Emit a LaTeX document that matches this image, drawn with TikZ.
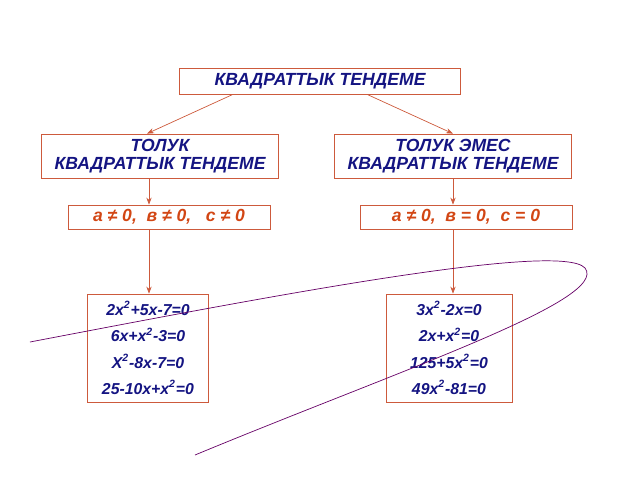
\documentclass[tikz,border=0pt]{standalone}
\usepackage{fontspec}
\setmainfont{Liberation Sans}
\usetikzlibrary{arrows.meta}
\definecolor{edge}{RGB}{205,90,60}
\definecolor{ink}{RGB}{20,20,130}
\definecolor{cond}{RGB}{210,70,20}
\tikzstyle{mybox} = [draw=edge, rectangle, inner sep=0pt, align=center,
    font=\fontsize{10}{10.5}\selectfont\bfseries\itshape]
\tikzstyle{conn} = [draw=edge]
\begin{document}
\begin{tikzpicture}[x=0.02cm,y=-0.02cm]
\useasboundingbox (0,0) rectangle (640,480);
\node[mybox,text=ink,minimum width=281*0.02cm,minimum height=26*0.02cm] (kv) at (320,81) {КВАДРАТТЫК ТЕНДЕМЕ};
\node[mybox,text=ink,minimum width=237*0.02cm,minimum height=44*0.02cm] (tol) at (160,156) {ТОЛУК\\КВАДРАТТЫК ТЕНДЕМЕ};
\node[mybox,text=ink,minimum width=237*0.02cm,minimum height=44*0.02cm] (eme) at (453,156) {ТОЛУК ЭМЕС\\КВАДРАТТЫК ТЕНДЕМЕ};
\node[mybox,text=cond,minimum width=202*0.02cm,minimum height=24*0.02cm] (c1) at (169,217) {а ≠ 0,\ \ в ≠ 0,\ \ \ с ≠ 0};
\node[mybox,text=cond,minimum width=212*0.02cm,minimum height=24*0.02cm] (c2) at (466,217) {а ≠ 0,\ \ в = 0,\ \ с = 0};
\node[mybox,text=ink,minimum width=121*0.02cm,minimum height=108*0.02cm,font=\fontsize{9}{15}\selectfont\bfseries\itshape] (e1) at (148,348)
  {2х\textsuperscript{2}+5х-7=0\\6х+х\textsuperscript{2}-3=0\\Х\textsuperscript{2}-8х-7=0\\25-10х+х\textsuperscript{2}=0};
\node[mybox,text=ink,minimum width=126*0.02cm,minimum height=108*0.02cm,font=\fontsize{9}{15}\selectfont\bfseries\itshape] (e2) at (449,348)
  {3х\textsuperscript{2}-2х=0\\2х+х\textsuperscript{2}=0\\125+5х\textsuperscript{2}=0\\49х\textsuperscript{2}-81=0};
\draw[conn,-{Stealth[length=4pt]}] ([xshift=-87*0.02cm]kv.south) -- (tol.north -| 147,0);
\draw[conn,-{Stealth[length=4pt]}] ([xshift=47*0.02cm]kv.south) -- (eme.north);
\draw[conn,-{Stealth[length=4pt]}] (tol.south -| 149,0) -- (c1.north -| 149,0);
\draw[conn,-{Stealth[length=4pt]}] (c1.south -| 149,0) -- (e1.north -| 149,0);
\draw[conn,-{Stealth[length=4pt]}] (eme.south) -- (c2.north -| eme.south);
\draw[conn,-{Stealth[length=4pt]}] (c2.south -| eme.south) -- (e2.north -| eme.south);
% curve
\draw[violet!80!black] (30,342) .. controls (250,300) and (560,240) .. (585,268)
  .. controls (610,300) and (400,370) .. (195,455);
\end{tikzpicture}
\end{document}
